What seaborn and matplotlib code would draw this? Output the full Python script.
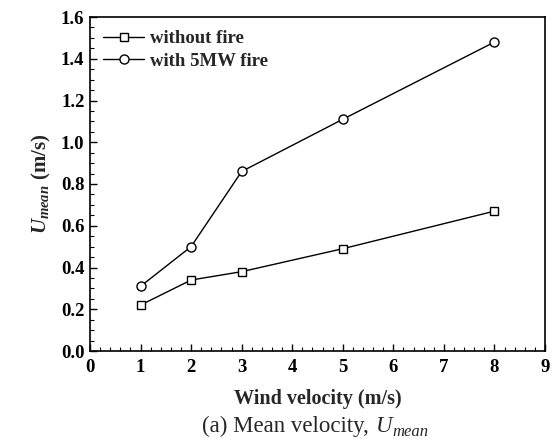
import matplotlib
matplotlib.use("Agg")
import matplotlib.pyplot as plt
import seaborn as sns
import pandas as pd
from matplotlib.ticker import MultipleLocator

wind = [1, 2, 3, 5, 8]
without_fire = [0.22, 0.34, 0.38, 0.49, 0.67]
with_fire = [0.31, 0.50, 0.86, 1.11, 1.48]
series_names = ["without fire", "with 5MW fire"]

sns.set_theme(style="ticks")
plt.rcParams["font.family"] = ["Liberation Serif", "DejaVu Serif"]
plt.rcParams["mathtext.fontset"] = "custom"
plt.rcParams["mathtext.rm"] = "Liberation Serif:bold"
plt.rcParams["mathtext.it"] = "Liberation Serif:italic:bold"
plt.rcParams["mathtext.bf"] = "Liberation Serif:bold"

W, H = 560, 441
fig = plt.figure(figsize=(5.6, 4.41), dpi=100)
ax = fig.add_axes([90 / W, 1 - 351 / H, 455 / W, 334 / H])

df1 = pd.DataFrame({"x": wind, "y": without_fire})
df2 = pd.DataFrame({"x": wind, "y": with_fire})
sns.lineplot(data=df1, x="x", y="y", ax=ax, color="black", lw=1.0, marker="s",
             markersize=6, markerfacecolor="white", markeredgecolor="black",
             markeredgewidth=1.0, label=series_names[0])
sns.lineplot(data=df2, x="x", y="y", ax=ax, color="black", lw=1.0, marker="o",
             markersize=6.5, markerfacecolor="white", markeredgecolor="black",
             markeredgewidth=1.0, label=series_names[1])

ax.set_xlim(0, 9)
ax.set_ylim(0, 1.6)
ax.xaxis.set_major_locator(MultipleLocator(1))
ax.xaxis.set_minor_locator(MultipleLocator(0.2))
ax.yaxis.set_minor_locator(MultipleLocator(0.05))
yt = [0, 0.2, 0.4, 0.6, 0.8, 1.0, 1.2, 1.4, 1.6]
ax.set_yticks(yt)
ax.set_yticklabels([f"{v:.1f}" for v in yt])
ax.tick_params(which="both", direction="in", colors="black", labelsize=13.5,
               top=False, right=False)
ax.tick_params(which="major", length=5, width=1.0)
ax.tick_params(axis="x", which="major", pad=6)
ax.tick_params(axis="y", which="major", pad=4)
ax.tick_params(which="minor", length=3, width=0.8)
for lab in ax.get_xticklabels() + ax.get_yticklabels():
    lab.set_fontweight("bold")
for s in ax.spines.values():
    s.set_color("black")
    s.set_linewidth(1.2)

ax.set_xlabel("Wind velocity (m/s)", fontsize=14.5, fontweight="bold", labelpad=9)
ax.set_ylabel(r"$U_{mean}$ (m/s)", fontsize=15, fontweight="bold", labelpad=6)

ax.legend(loc="upper left", frameon=False, handlelength=2.2,
          handletextpad=0.3, borderaxespad=0.3, labelspacing=0.3,
          prop={"weight": "bold", "size": 13.5, "family": "Liberation Serif"})

# caption built from pieces
fig.canvas.draw()
r = fig.canvas.get_renderer()
base_y = 1 - 432 / H
t1 = fig.text(202 / W, base_y, "(a) Mean velocity, ", ha="left", va="baseline",
              fontsize=16.5, family="Liberation Serif")
x1 = t1.get_window_extent(r).x1
t2 = fig.text(x1 / W + 0.002, base_y, "U", ha="left", va="baseline", fontsize=16.5,
              family="Liberation Serif", style="italic")
x2 = t2.get_window_extent(r).x1
fig.text(x2 / W + 0.001, base_y - 4 / H, "mean", ha="left", va="baseline", fontsize=12,
         family="Liberation Serif", style="italic")

fig.savefig("out.png", dpi=100)
